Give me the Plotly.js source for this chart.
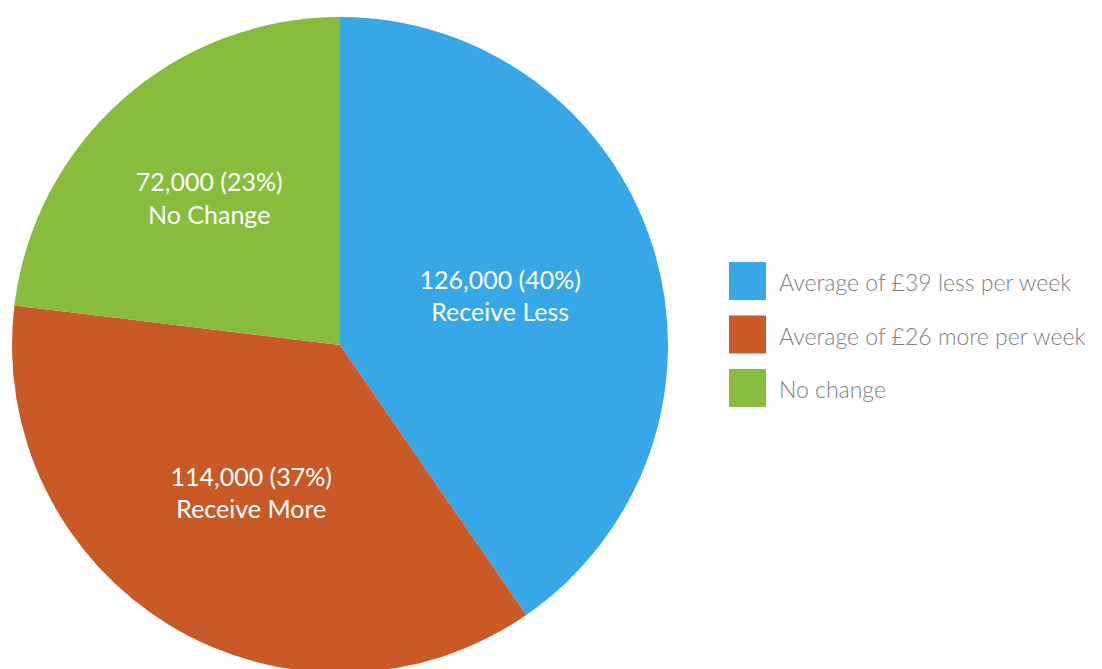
<!DOCTYPE html>
<html>
<head>
<meta charset="utf-8">
<script src="https://cdn.plot.ly/plotly-3.0.1.min.js"></script>
<style>
  html, body { margin: 0; padding: 0; overflow: hidden; background: #fff; }
  #chart { width: 1102px; height: 680px; }
</style>
</head>
<body>
<div id="chart"></div>
<script>
// Households by change in weekly support
const groups = ["Receive Less", "Receive More", "No Change"];
const households = [126000, 114000, 72000];
const legendLabels = [
  "Average of £39 less per week",
  "Average of £26 more per week",
  "No change"
];
const colors = ["#38A7E7", "#C95A27", "#87BC3D"];

const W = 1102, H = 680;
const px = x => x / W;
const py = y => 1 - y / H;

const pie = {
  type: "pie",
  values: households,
  labels: legendLabels,
  text: groups,
  sort: false,
  direction: "clockwise",
  rotation: 0,
  marker: { colors: colors, line: { width: 0 } },
  texttemplate: "%{value:,} (%{percent:.0%})<br>%{text}",
  textposition: "inside",
  insidetextorientation: "horizontal",
  textfont: { family: "Lato, 'Open Sans', sans-serif", size: 25, color: "#ffffff" },
  hoverinfo: "skip",
  domain: { x: [px(12), px(668)], y: [py(673), py(17)] },
  showlegend: false
};

// Legend: coloured squares with their descriptions
const shapes = [];
const annotations = [];
legendLabels.forEach((lab, i) => {
  const top = 262 + i * 53.5;
  shapes.push({
    type: "rect", xref: "paper", yref: "paper",
    x0: px(729), x1: px(766), y0: py(top + 38), y1: py(top),
    fillcolor: colors[i], line: { width: 0 }
  });
  annotations.push({
    xref: "paper", yref: "paper",
    x: px(777), y: py(top + 20),
    xanchor: "left", yanchor: "middle",
    text: lab, showarrow: false,
    font: { family: "Lato, 'Open Sans', sans-serif", size: 23, weight: 300, color: "#808080" }
  });
});

const layout = {
  width: W, height: H,
  margin: { l: 0, r: 0, t: 0, b: 0 },
  paper_bgcolor: "#ffffff",
  showlegend: false,
  shapes: shapes,
  annotations: annotations
};

Plotly.newPlot("chart", [pie], layout, { displayModeBar: false, staticPlot: true });
</script>
</body>
</html>
